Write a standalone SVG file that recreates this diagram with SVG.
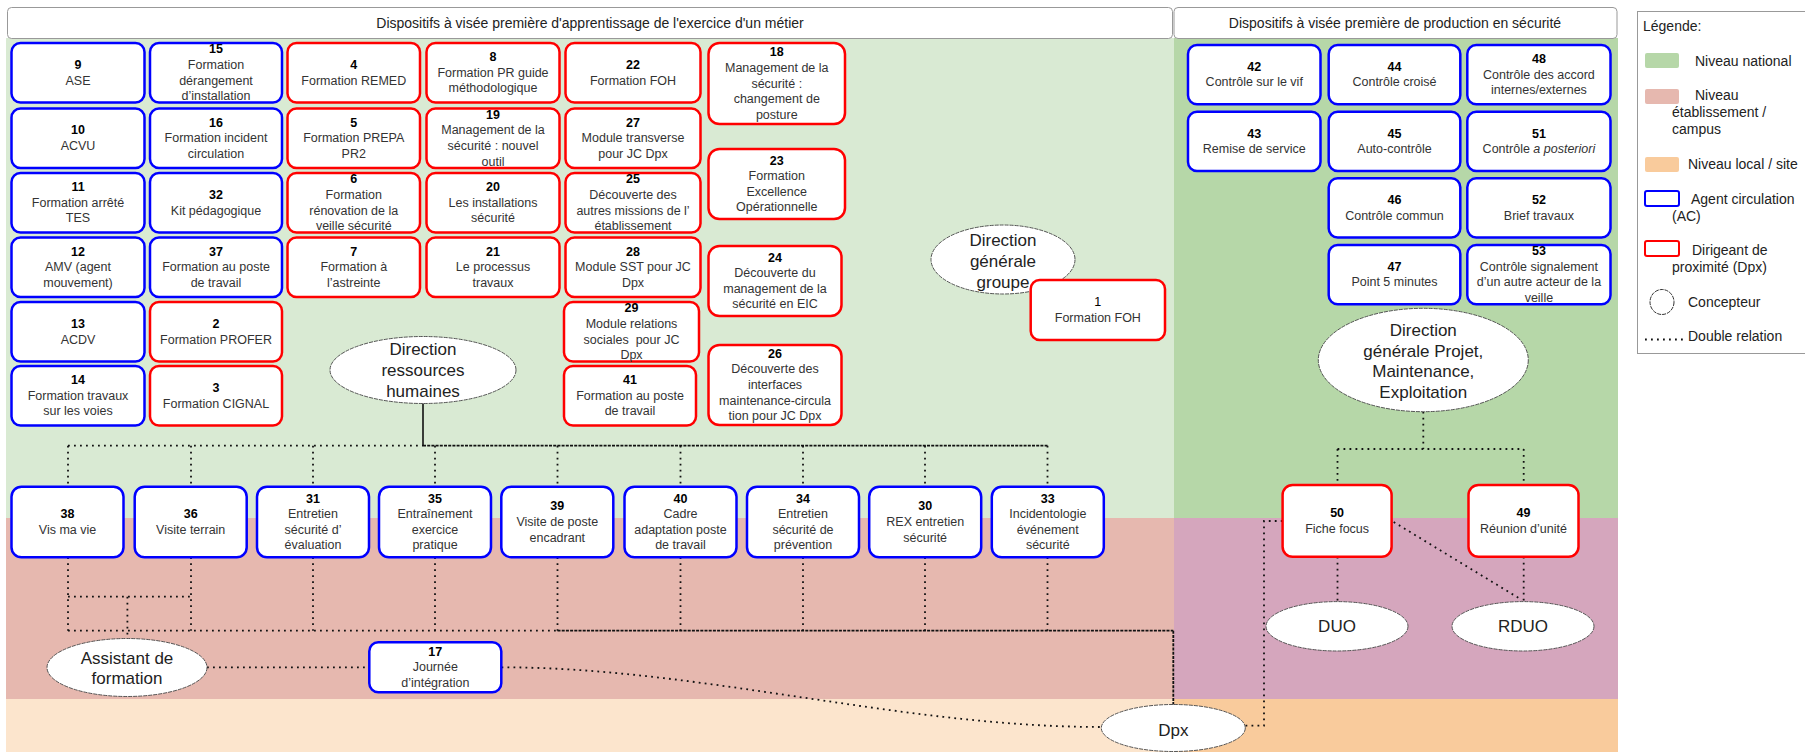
<svg xmlns="http://www.w3.org/2000/svg" width="1805" height="752" viewBox="0 0 1805 752">
<style>
text{font-family:"Liberation Sans",Arial,sans-serif;fill:#333;}
.t{font-size:12.5px;text-anchor:middle;dominant-baseline:central;}
.b{font-weight:bold;fill:#000;}
.bl{fill:#fff;stroke:#0000ff;stroke-width:2.5;}
.rd{fill:#fff;stroke:#ff0000;stroke-width:2.5;}
.el{fill:#fff;stroke:#555;stroke-width:1;stroke-dasharray:4 1;}
.et{font-size:17px;text-anchor:middle;dominant-baseline:central;fill:#222;}
.hd{fill:#fff;stroke:#999;stroke-width:1;}
.ht{font-size:14px;text-anchor:middle;dominant-baseline:central;fill:#222;}
.lg{font-size:14px;dominant-baseline:central;fill:#222;}
.dot{fill:none;stroke:#111;stroke-width:1.8;stroke-dasharray:1.8 4.2;}
.den{fill:none;stroke:#111;stroke-width:1.8;stroke-dasharray:3 1.2;}
.sol{fill:none;stroke:#111;stroke-width:1.6;}
</style>
<rect x="0" y="0" width="1805" height="752" fill="#fff"/>
<g id="bands">
<rect x="6" y="38" width="1168" height="480" fill="#d9ead3"/>
<rect x="6" y="518" width="1168" height="181" fill="#e6b8af"/>
<rect x="6" y="699" width="1168" height="53" fill="#fce5cd"/>
<rect x="1174" y="38" width="444" height="480" fill="#b6d7a8"/>
<rect x="1174" y="518" width="444" height="181" fill="#d5a6bd"/>
<rect x="1174" y="699" width="444" height="53" fill="#f9cb9c"/>
</g>
<g id="headers">
<rect class="hd" x="7.5" y="7.5" width="1165" height="31" rx="4"/>
<text class="ht" x="590" y="23">Dispositifs à visée première d'apprentissage de l'exercice d'un métier</text>
<rect class="hd" x="1174" y="7.5" width="443" height="31" rx="4"/>
<text class="ht" x="1395" y="23">Dispositifs à visée première de production en sécurité</text>
</g>
<g id="legend">
<rect x="1637.5" y="11.5" width="175" height="342" fill="#fff" stroke="#999" stroke-width="1"/>
<text class="lg" x="1643" y="26">Légende:</text>
<rect x="1645" y="53" width="34" height="15" rx="2" fill="#b6d7a8"/>
<text class="lg" x="1695" y="61">Niveau national</text>
<rect x="1645" y="89" width="34" height="15" rx="2" fill="#e6b8af"/>
<text class="lg"><tspan x="1695" y="95">Niveau</tspan><tspan x="1672" y="112">établissement /</tspan><tspan x="1672" y="129">campus</tspan></text>
<rect x="1645" y="157" width="34" height="15" rx="2" fill="#f9cb9c"/>
<text class="lg" x="1688" y="164">Niveau local / site</text>
<rect x="1645" y="191" width="34" height="15" rx="2" fill="#fff" stroke="#0000ff" stroke-width="2"/>
<text class="lg"><tspan x="1691" y="199">Agent circulation</tspan><tspan x="1672" y="216">(AC)</tspan></text>
<rect x="1645" y="241" width="34" height="15" rx="2" fill="#fff" stroke="#ff0000" stroke-width="2"/>
<text class="lg"><tspan x="1692" y="250">Dirigeant de</tspan><tspan x="1672" y="267">proximité (Dpx)</tspan></text>
<ellipse cx="1662" cy="302" rx="12" ry="12.5" fill="#fff" stroke="#333" stroke-width="1" stroke-dasharray="4 1"/>
<text class="lg" x="1688" y="302">Concepteur</text>
<line x1="1645" y1="339.5" x2="1683" y2="339.5" class="dot" stroke-width="1.5" stroke-dasharray="1.5 4.5"/>
<text class="lg" x="1688" y="336">Double relation</text>
</g>
<g id="connectors">
<line class="sol" x1="423" y1="403" x2="423" y2="445.7"/>
<line class="dot" x1="68" y1="445.7" x2="423" y2="445.7"/>
<line class="den" x1="423" y1="445.7" x2="1047.5" y2="445.7"/>
<path class="dot" d="M68 445.7V486.7M191 445.7V486.7M313 445.7V486.7M435 445.7V486.7M557.5 445.7V486.7M680.5 445.7V486.7M803 445.7V486.7M925 445.7V486.7M1047.5 445.7V486.7"/>
<path class="dot" d="M68 557.3V630.7M191 557.3V630.7M313 557.3V630.7M435 557.3V630.7M557.5 557.3V630.7M680.5 557.3V630.7M803 557.3V630.7M925 557.3V630.7M1047.5 557.3V630.7"/>
<path class="dot" d="M68 596.7H191M127.4 596.7V638.5"/>
<line class="dot" x1="68" y1="630.7" x2="557.5" y2="630.7"/>
<line class="den" x1="557.5" y1="630.7" x2="1173.3" y2="630.7"/>
<line class="den" x1="1173.3" y1="630.7" x2="1173.3" y2="705"/>
<line class="dot" x1="207" y1="667.3" x2="369" y2="667.3"/>
<path class="dot" d="M501.5 667.3C700 667.3 900 727 1101.5 727"/>
<path class="dot" d="M1423.3 411.7V449M1337.5 449H1523.7M1337.5 449V485M1523.7 449V485"/>
<path class="dot" d="M1337.5 556.7V601.7M1523.7 556.7V601.7M1393.7 522L1522 600"/>
<path class="dot" d="M1282.6 521H1264V725.7H1245"/>
</g>
<g id="e-drh"><ellipse class="el" cx="423" cy="370" rx="93" ry="33.5"/><text class="et"><tspan x="423" y="349.4">Direction</tspan><tspan x="423" y="370">ressources</tspan><tspan x="423" y="390.6">humaines</tspan></text></g>
<g id="e-dgg"><ellipse class="el" cx="1003" cy="259.5" rx="72" ry="34.5"/><text class="et"><tspan x="1003" y="240.4">Direction</tspan><tspan x="1003" y="261">générale</tspan><tspan x="1003" y="281.6">groupe</tspan></text></g>
<g id="e-dgpme"><ellipse class="el" cx="1423.3" cy="360" rx="105" ry="51.7"/><text class="et"><tspan x="1423.3" y="330">Direction</tspan><tspan x="1423.3" y="350.7">générale Projet,</tspan><tspan x="1423.3" y="371.4">Maintenance,</tspan><tspan x="1423.3" y="392.1">Exploitation</tspan></text></g>
<g id="e-af"><ellipse class="el" cx="127" cy="667.5" rx="80" ry="29"/><text class="et"><tspan x="127" y="657.5">Assistant de</tspan><tspan x="127" y="678.3">formation</tspan></text></g>
<g id="e-duo"><ellipse class="el" cx="1337" cy="626.3" rx="71" ry="24.7"/><text class="et" x="1337" y="626.3">DUO</text></g>
<g id="e-rduo"><ellipse class="el" cx="1523" cy="626.3" rx="71" ry="24.7"/><text class="et" x="1523" y="626.3">RDUO</text></g>
<g id="e-dpx"><ellipse class="el" cx="1173.3" cy="728" rx="72" ry="23.5"/><text class="et" x="1173.3" y="730">Dpx</text></g>
<g id="n9"><rect class="bl" x="11.5" y="43" width="133" height="59.5" rx="9"/><text class="t"><tspan class="b" x="78" y="64.95">9</tspan><tspan x="78" y="80.55">ASE</tspan></text></g>
<g id="n10"><rect class="bl" x="11.5" y="108.5" width="133" height="59.5" rx="9"/><text class="t"><tspan class="b" x="78" y="130.45">10</tspan><tspan x="78" y="146.05">ACVU</tspan></text></g>
<g id="n11"><rect class="bl" x="11.5" y="173" width="133" height="59.5" rx="9"/><text class="t"><tspan class="b" x="78" y="187.15">11</tspan><tspan x="78" y="202.75">Formation arrêté</tspan><tspan x="78" y="218.35">TES</tspan></text></g>
<g id="n12"><rect class="bl" x="11.5" y="237.5" width="133" height="59.5" rx="9"/><text class="t"><tspan class="b" x="78" y="251.65">12</tspan><tspan x="78" y="267.25">AMV (agent</tspan><tspan x="78" y="282.85">mouvement)</tspan></text></g>
<g id="n13"><rect class="bl" x="11.5" y="302" width="133" height="59.5" rx="9"/><text class="t"><tspan class="b" x="78" y="323.95">13</tspan><tspan x="78" y="339.55">ACDV</tspan></text></g>
<g id="n14"><rect class="bl" x="11.5" y="366" width="133" height="59.5" rx="9"/><text class="t"><tspan class="b" x="78" y="380.15">14</tspan><tspan x="78" y="395.75">Formation travaux</tspan><tspan x="78" y="411.35">sur les voies</tspan></text></g>
<g id="n15"><rect class="bl" x="150" y="43" width="132" height="59.5" rx="9"/><text class="t"><tspan class="b" x="216" y="49.35">15</tspan><tspan x="216" y="64.95">Formation</tspan><tspan x="216" y="80.55">dérangement</tspan><tspan x="216" y="96.15">d’installation</tspan></text></g>
<g id="n16"><rect class="bl" x="150" y="108.5" width="132" height="59.5" rx="9"/><text class="t"><tspan class="b" x="216" y="122.65">16</tspan><tspan x="216" y="138.25">Formation incident</tspan><tspan x="216" y="153.85">circulation</tspan></text></g>
<g id="n32"><rect class="bl" x="150" y="173" width="132" height="59.5" rx="9"/><text class="t"><tspan class="b" x="216" y="194.95">32</tspan><tspan x="216" y="210.55">Kit pédagogique</tspan></text></g>
<g id="n37"><rect class="bl" x="150" y="237.5" width="132" height="59.5" rx="9"/><text class="t"><tspan class="b" x="216" y="251.65">37</tspan><tspan x="216" y="267.25">Formation au poste</tspan><tspan x="216" y="282.85">de travail</tspan></text></g>
<g id="n2"><rect class="rd" x="150" y="302" width="132" height="59.5" rx="9"/><text class="t"><tspan class="b" x="216" y="323.95">2</tspan><tspan x="216" y="339.55">Formation PROFER</tspan></text></g>
<g id="n3"><rect class="rd" x="150" y="366" width="132" height="59.5" rx="9"/><text class="t"><tspan class="b" x="216" y="387.95">3</tspan><tspan x="216" y="403.55">Formation CIGNAL</tspan></text></g>
<g id="n4"><rect class="rd" x="287.5" y="43" width="132.5" height="59.5" rx="9"/><text class="t"><tspan class="b" x="353.75" y="64.95">4</tspan><tspan x="353.75" y="80.55">Formation REMED</tspan></text></g>
<g id="n5"><rect class="rd" x="287.5" y="108.5" width="132.5" height="59.5" rx="9"/><text class="t"><tspan class="b" x="353.75" y="122.65">5</tspan><tspan x="353.75" y="138.25">Formation PREPA</tspan><tspan x="353.75" y="153.85">PR2</tspan></text></g>
<g id="n6"><rect class="rd" x="287.5" y="173" width="132.5" height="59.5" rx="9"/><text class="t"><tspan class="b" x="353.75" y="179.35">6</tspan><tspan x="353.75" y="194.95">Formation</tspan><tspan x="353.75" y="210.55">rénovation de la</tspan><tspan x="353.75" y="226.15">veille sécurité</tspan></text></g>
<g id="n7"><rect class="rd" x="287.5" y="237.5" width="132.5" height="59.5" rx="9"/><text class="t"><tspan class="b" x="353.75" y="251.65">7</tspan><tspan x="353.75" y="267.25">Formation à</tspan><tspan x="353.75" y="282.85">l’astreinte</tspan></text></g>
<g id="n8"><rect class="rd" x="426.5" y="43" width="133" height="59.5" rx="9"/><text class="t"><tspan class="b" x="493" y="57.15">8</tspan><tspan x="493" y="72.75">Formation PR guide</tspan><tspan x="493" y="88.35">méthodologique</tspan></text></g>
<g id="n19"><rect class="rd" x="426.5" y="108.5" width="133" height="59.5" rx="9"/><text class="t"><tspan class="b" x="493" y="114.85">19</tspan><tspan x="493" y="130.45">Management de la</tspan><tspan x="493" y="146.05">sécurité : nouvel</tspan><tspan x="493" y="161.65">outil</tspan></text></g>
<g id="n20"><rect class="rd" x="426.5" y="173" width="133" height="59.5" rx="9"/><text class="t"><tspan class="b" x="493" y="187.15">20</tspan><tspan x="493" y="202.75">Les installations</tspan><tspan x="493" y="218.35">sécurité</tspan></text></g>
<g id="n21"><rect class="rd" x="426.5" y="237.5" width="133" height="59.5" rx="9"/><text class="t"><tspan class="b" x="493" y="251.65">21</tspan><tspan x="493" y="267.25">Le processus</tspan><tspan x="493" y="282.85">travaux</tspan></text></g>
<g id="n22"><rect class="rd" x="565.5" y="43" width="135" height="59.5" rx="9"/><text class="t"><tspan class="b" x="633" y="64.95">22</tspan><tspan x="633" y="80.55">Formation FOH</tspan></text></g>
<g id="n27"><rect class="rd" x="565.5" y="108.5" width="135" height="59.5" rx="9"/><text class="t"><tspan class="b" x="633" y="122.65">27</tspan><tspan x="633" y="138.25">Module transverse</tspan><tspan x="633" y="153.85">pour JC Dpx</tspan></text></g>
<g id="n25"><rect class="rd" x="565.5" y="173" width="135" height="59.5" rx="9"/><text class="t"><tspan class="b" x="633" y="179.35">25</tspan><tspan x="633" y="194.95">Découverte des</tspan><tspan x="633" y="210.55">autres missions de l’</tspan><tspan x="633" y="226.15">établissement</tspan></text></g>
<g id="n28"><rect class="rd" x="565.5" y="237.5" width="135" height="59.5" rx="9"/><text class="t"><tspan class="b" x="633" y="251.65">28</tspan><tspan x="633" y="267.25">Module SST pour JC</tspan><tspan x="633" y="282.85">Dpx</tspan></text></g>
<g id="n29"><rect class="rd" x="564" y="302" width="135" height="59.5" rx="9"/><text class="t"><tspan class="b" x="631.5" y="308.35">29</tspan><tspan x="631.5" y="323.95">Module relations</tspan><tspan x="631.5" y="339.55" xml:space="preserve">sociales  pour JC</tspan><tspan x="631.5" y="355.15">Dpx</tspan></text></g>
<g id="n41"><rect class="rd" x="564" y="366" width="132" height="59.5" rx="9"/><text class="t"><tspan class="b" x="630" y="380.15">41</tspan><tspan x="630" y="395.75">Formation au poste</tspan><tspan x="630" y="411.35">de travail</tspan></text></g>
<g id="n18"><rect class="rd" x="708.5" y="43" width="136.5" height="81" rx="11"/><text class="t"><tspan class="b" x="776.75" y="52.3">18</tspan><tspan x="776.75" y="67.9">Management de la</tspan><tspan x="776.75" y="83.5">sécurité :</tspan><tspan x="776.75" y="99.1">changement de</tspan><tspan x="776.75" y="114.7">posture</tspan></text></g>
<g id="n23"><rect class="rd" x="708.5" y="149" width="136.5" height="70" rx="11"/><text class="t"><tspan class="b" x="776.75" y="160.6">23</tspan><tspan x="776.75" y="176.2">Formation</tspan><tspan x="776.75" y="191.8">Excellence</tspan><tspan x="776.75" y="207.4">Opérationnelle</tspan></text></g>
<g id="n24"><rect class="rd" x="708.5" y="246" width="133" height="70" rx="11"/><text class="t"><tspan class="b" x="775" y="257.6">24</tspan><tspan x="775" y="273.2">Découverte du</tspan><tspan x="775" y="288.8">management de la</tspan><tspan x="775" y="304.4">sécurité en EIC</tspan></text></g>
<g id="n26"><rect class="rd" x="708.5" y="345" width="133" height="80" rx="11"/><text class="t"><tspan class="b" x="775" y="353.8">26</tspan><tspan x="775" y="369.4">Découverte des</tspan><tspan x="775" y="385">interfaces</tspan><tspan x="775" y="400.6">maintenance-circula</tspan><tspan x="775" y="416.2">tion pour JC Dpx</tspan></text></g>
<g id="n1"><rect class="rd" x="1030.7" y="280" width="134.3" height="60" rx="9"/><text class="t"><tspan x="1097.85" y="302.2" fill="#000">1</tspan><tspan x="1097.85" y="317.8">Formation FOH</tspan></text></g>
<g id="n42"><rect class="bl" x="1188" y="45" width="132.5" height="59.3" rx="9"/><text class="t"><tspan class="b" x="1254.25" y="66.85">42</tspan><tspan x="1254.25" y="82.45">Contrôle sur le vif</tspan></text></g>
<g id="n44"><rect class="bl" x="1328.7" y="45" width="131.6" height="59.3" rx="9"/><text class="t"><tspan class="b" x="1394.5" y="66.85">44</tspan><tspan x="1394.5" y="82.45">Contrôle croisé</tspan></text></g>
<g id="n48"><rect class="bl" x="1467.3" y="45" width="143.2" height="59.3" rx="9"/><text class="t"><tspan class="b" x="1538.9" y="59.05">48</tspan><tspan x="1538.9" y="74.65">Contrôle des accord</tspan><tspan x="1538.9" y="90.25">internes/externes</tspan></text></g>
<g id="n43"><rect class="bl" x="1188" y="111.7" width="132.5" height="59.3" rx="9"/><text class="t"><tspan class="b" x="1254.25" y="133.55">43</tspan><tspan x="1254.25" y="149.15">Remise de service</tspan></text></g>
<g id="n45"><rect class="bl" x="1328.7" y="111.7" width="131.6" height="59.3" rx="9"/><text class="t"><tspan class="b" x="1394.5" y="133.55">45</tspan><tspan x="1394.5" y="149.15">Auto-contrôle</tspan></text></g>
<g id="n51"><rect class="bl" x="1467.3" y="111.7" width="143.2" height="59.3" rx="9"/><text class="t"><tspan class="b" x="1538.9" y="133.55">51</tspan><tspan x="1538.9" y="149.15">Contrôle <tspan font-style="italic">a posteriori</tspan></tspan></text></g>
<g id="n46"><rect class="bl" x="1328.7" y="178.3" width="131.6" height="59.3" rx="9"/><text class="t"><tspan class="b" x="1394.5" y="200.15">46</tspan><tspan x="1394.5" y="215.75">Contrôle commun</tspan></text></g>
<g id="n52"><rect class="bl" x="1467.3" y="178.3" width="143.2" height="59.3" rx="9"/><text class="t"><tspan class="b" x="1538.9" y="200.15">52</tspan><tspan x="1538.9" y="215.75">Brief travaux</tspan></text></g>
<g id="n47"><rect class="bl" x="1328.7" y="245" width="131.6" height="59.3" rx="9"/><text class="t"><tspan class="b" x="1394.5" y="266.85">47</tspan><tspan x="1394.5" y="282.45">Point 5 minutes</tspan></text></g>
<g id="n53"><rect class="bl" x="1467.3" y="245" width="143.2" height="59.3" rx="9"/><text class="t"><tspan class="b" x="1538.9" y="251.25">53</tspan><tspan x="1538.9" y="266.85">Contrôle signalement</tspan><tspan x="1538.9" y="282.45">d’un autre acteur de la</tspan><tspan x="1538.9" y="298.05">veille</tspan></text></g>
<g id="n38"><rect class="bl" x="11.5" y="486.7" width="112" height="70.6" rx="10"/><text class="t"><tspan class="b" x="67.5" y="514.2">38</tspan><tspan x="67.5" y="529.8">Vis ma vie</tspan></text></g>
<g id="n36"><rect class="bl" x="134.7" y="486.7" width="112" height="70.6" rx="10"/><text class="t"><tspan class="b" x="190.7" y="514.2">36</tspan><tspan x="190.7" y="529.8">Visite terrain</tspan></text></g>
<g id="n31"><rect class="bl" x="257" y="486.7" width="112" height="70.6" rx="10"/><text class="t"><tspan class="b" x="313" y="498.6">31</tspan><tspan x="313" y="514.2">Entretien</tspan><tspan x="313" y="529.8">sécurité d’</tspan><tspan x="313" y="545.4">évaluation</tspan></text></g>
<g id="n35"><rect class="bl" x="379" y="486.7" width="112" height="70.6" rx="10"/><text class="t"><tspan class="b" x="435" y="498.6">35</tspan><tspan x="435" y="514.2">Entraînement</tspan><tspan x="435" y="529.8">exercice</tspan><tspan x="435" y="545.4">pratique</tspan></text></g>
<g id="n39"><rect class="bl" x="501.3" y="486.7" width="112" height="70.6" rx="10"/><text class="t"><tspan class="b" x="557.3" y="506.4">39</tspan><tspan x="557.3" y="522">Visite de poste</tspan><tspan x="557.3" y="537.6">encadrant</tspan></text></g>
<g id="n40"><rect class="bl" x="624.5" y="486.7" width="112" height="70.6" rx="10"/><text class="t"><tspan class="b" x="680.5" y="498.6">40</tspan><tspan x="680.5" y="514.2">Cadre</tspan><tspan x="680.5" y="529.8">adaptation poste</tspan><tspan x="680.5" y="545.4">de travail</tspan></text></g>
<g id="n34"><rect class="bl" x="747" y="486.7" width="112" height="70.6" rx="10"/><text class="t"><tspan class="b" x="803" y="498.6">34</tspan><tspan x="803" y="514.2">Entretien</tspan><tspan x="803" y="529.8">sécurité de</tspan><tspan x="803" y="545.4">prévention</tspan></text></g>
<g id="n30"><rect class="bl" x="869.2" y="486.7" width="112" height="70.6" rx="10"/><text class="t"><tspan class="b" x="925.2" y="506.4">30</tspan><tspan x="925.2" y="522">REX entretien</tspan><tspan x="925.2" y="537.6">sécurité</tspan></text></g>
<g id="n33"><rect class="bl" x="991.8" y="486.7" width="112" height="70.6" rx="10"/><text class="t"><tspan class="b" x="1047.8" y="498.6">33</tspan><tspan x="1047.8" y="514.2">Incidentologie</tspan><tspan x="1047.8" y="529.8">événement</tspan><tspan x="1047.8" y="545.4">sécurité</tspan></text></g>
<g id="n17"><rect class="bl" x="369.3" y="642.3" width="132" height="50" rx="9"/><text class="t"><tspan class="b" x="435.3" y="651.7">17</tspan><tspan x="435.3" y="667.3">Journée</tspan><tspan x="435.3" y="682.9">d’intégration</tspan></text></g>
<g id="n50"><rect class="rd" x="1282.6" y="485" width="109" height="71.7" rx="10"/><text class="t"><tspan class="b" x="1337.1" y="513.05">50</tspan><tspan x="1337.1" y="528.65">Fiche focus</tspan></text></g>
<g id="n49"><rect class="rd" x="1468.5" y="485" width="110" height="71.7" rx="10"/><text class="t"><tspan class="b" x="1523.5" y="513.05">49</tspan><tspan x="1523.5" y="528.65">Réunion d’unité</tspan></text></g>
</svg>
